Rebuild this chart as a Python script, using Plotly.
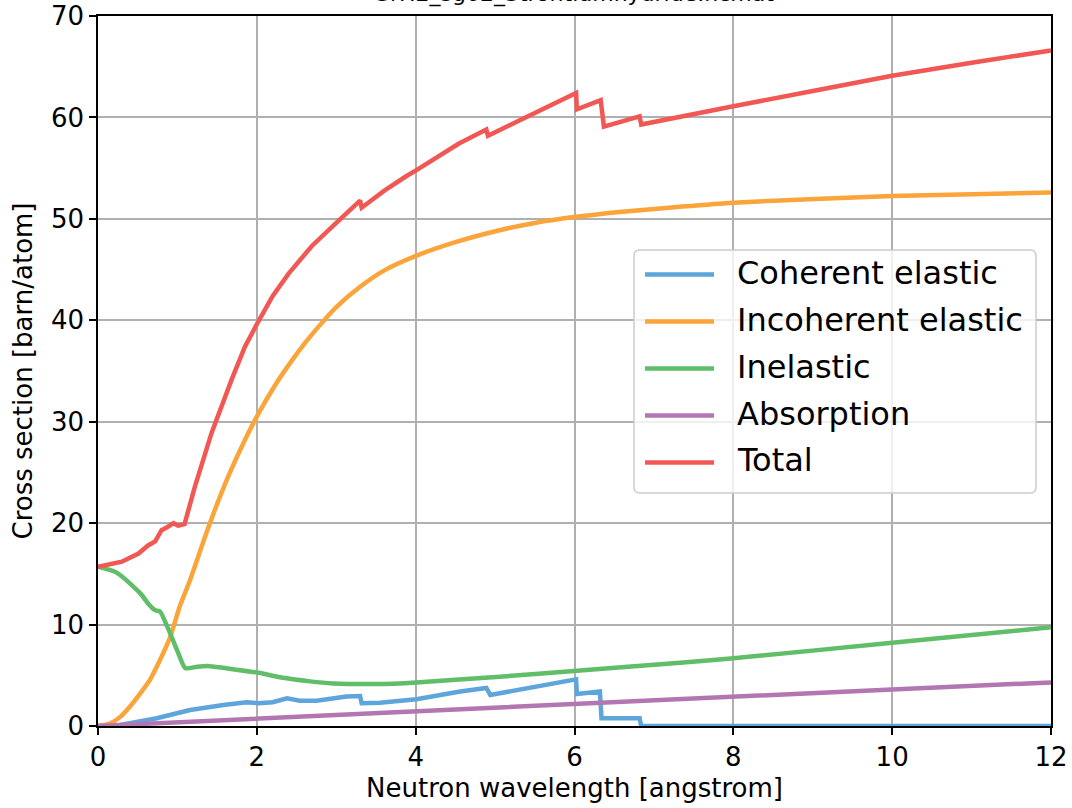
import re
import plotly.graph_objects as go

# ---- data ----
coh_x = [0, 0.28, 0.74, 1.16, 1.58, 1.87, 2.02, 2.20, 2.38, 2.54, 2.75, 2.92, 3.13, 3.30, 3.32,
         3.55, 4.01, 4.56, 4.89, 4.94, 6.02, 6.03, 6.32, 6.34, 6.82, 6.84, 12]
coh_y = [0, 0.1, 0.76, 1.58, 2.07, 2.35, 2.25, 2.35, 2.73, 2.5, 2.5, 2.7, 2.9, 2.96, 2.24,
         2.3, 2.63, 3.4, 3.75, 3.06, 4.6, 3.15, 3.4, 0.76, 0.76, 0, 0]

inc_x = [0, 0.15, 0.28, 0.40, 0.53, 0.65, 0.78, 0.91, 1.03, 1.16, 1.39, 1.64, 1.85, 2.02,
         2.23, 2.42, 2.6, 2.78, 3.0, 3.3, 3.6, 4.02, 4.5, 5.07, 5.5, 6.02, 6.6, 7.33, 8, 10, 12]
inc_y = [0, 0.25, 0.9, 1.9, 3.2, 4.5, 6.5, 8.8, 11.8, 14.4, 19.6, 24.6, 28.2, 30.8,
         33.6, 35.8, 37.7, 39.4, 41.3, 43.3, 44.9, 46.4, 47.7, 48.9, 49.6, 50.2, 50.7, 51.2,
         51.6, 52.25, 52.6]

inel_x = [0, 0.24, 0.53, 0.65, 0.72, 0.78, 0.91, 1.02, 1.10, 1.25, 1.41, 1.7, 2.02, 2.33,
          2.67, 2.96, 3.51, 4.01, 5.06, 6.03, 7.33, 8, 10, 12]
inel_y = [15.7, 15.1, 13.1, 11.9, 11.4, 11.3, 9.1, 7.0, 5.7, 5.85, 5.9, 5.6, 5.25, 4.75,
          4.4, 4.2, 4.14, 4.3, 4.86, 5.45, 6.24, 6.67, 8.21, 9.73]

abs_x = [0, 2, 4, 6, 8, 10, 12]
abs_y = [0, 0.74, 1.45, 2.17, 2.89, 3.61, 4.3]

tot_x = [0, 0.3, 0.51, 0.63, 0.72, 0.80, 0.87, 0.95, 1.01, 1.09, 1.22, 1.43, 1.68, 1.85,
         2.02, 2.20, 2.40, 2.69, 3.0, 3.19, 3.30, 3.32, 3.61, 3.88, 4.01, 4.54, 4.89, 4.91,
         6.02, 6.03, 6.33, 6.37, 6.82, 6.84, 7.33, 8, 9, 10, 11, 12]
tot_y = [15.7, 16.2, 17.0, 17.8, 18.2, 19.3, 19.6, 20.0, 19.75, 19.9, 23.6, 28.9, 34.1, 37.4,
         39.9, 42.4, 44.6, 47.3, 49.6, 51.0, 51.8, 51.1, 52.8, 54.2, 54.8, 57.4, 58.8, 58.2,
         62.4, 60.8, 61.7, 59.1, 60.1, 59.3, 60.1, 61.1, 62.6, 64.1, 65.4, 66.6]

names = ["Coherent elastic", "Incoherent elastic", "Inelastic", "Absorption", "Total"]
colors = ["#5DA5DA", "#FAA43A", "#60BD68", "#B276B2", "#F15854"]
title_text = "SrH2_sg62_Strontiumhydride.ncmat"
x_title = "Neutron wavelength [angstrom]"
y_title = "Cross section [barn/atom]"

series = [(coh_x, coh_y, "linear"), (inc_x, inc_y, "spline"), (inel_x, inel_y, "spline"),
          (abs_x, abs_y, "linear"), (tot_x, tot_y, "linear")]

FONT = "DejaVu Sans"
W, H = 1072, 808
ML, MR, MT, MB = 98, 21, 16, 82
PW, PH = W - ML - MR, H - MT - MB


def px_x(p):
    return (p - ML) / PW


def px_y(p):
    return (H - MB - p) / PH


fig = go.Figure()
for (xs, ys, shp), nm, c in zip(series, names, colors):
    line = dict(color=c, width=4.5, shape=shp)
    if shp == "spline":
        line["smoothing"] = 0.6
    fig.add_trace(go.Scatter(x=xs, y=ys, mode="lines", name=nm, line=line, showlegend=False))

axis_common = dict(
    showline=True, linecolor="black", linewidth=1.6, mirror=True,
    ticks="outside", ticklen=7, tickwidth=1.6, tickcolor="black",
    showgrid=True, gridcolor="#b0b0b0", gridwidth=1.5, zeroline=False,
    tickfont=dict(family=FONT, size=26, color="black"), automargin=False,
)
fig.update_xaxes(range=[0, 12], dtick=2, tick0=0,
                 title=dict(text=x_title, font=dict(family=FONT, size=26, color="black"), standoff=8),
                 **axis_common)
fig.update_yaxes(range=[0, 70], dtick=10, tick0=0,
                 title=dict(text=y_title, font=dict(family=FONT, size=26, color="black"), standoff=11),
                 **axis_common)

# ---- legend drawn as a rounded box with sample lines and text labels ----
shapes = []
annotations = []
bx0, bx1, by0, by1, r = 634, 1036, 250, 493, 6
path = (f"M{bx0 + r},{by0} L{bx1 - r},{by0} Q{bx1},{by0} {bx1},{by0 + r} "
        f"L{bx1},{by1 - r} Q{bx1},{by1} {bx1 - r},{by1} L{bx0 + r},{by1} "
        f"Q{bx0},{by1} {bx0},{by1 - r} L{bx0},{by0 + r} Q{bx0},{by0} {bx0 + r},{by0} Z")


def conv(m):
    a, b = float(m.group(1)), float(m.group(2))
    return f"{px_x(a):.5f},{px_y(b):.5f}"


paper_path = re.sub(r"(-?\d+(?:\.\d+)?),(-?\d+(?:\.\d+)?)", conv, path)
shapes.append(dict(type="path", path=paper_path, xref="paper", yref="paper",
                   fillcolor="rgba(255,255,255,0.8)", line=dict(color="#cccccc", width=1.5),
                   layer="above"))
row_y = [274.5, 321.5, 368.5, 415.5, 462.5]
for nm, c, ry in zip(names, colors, row_y):
    shapes.append(dict(type="line", xref="paper", yref="paper",
                       x0=px_x(645), x1=px_x(714), y0=px_y(ry), y1=px_y(ry),
                       line=dict(color=c, width=4.5), layer="above"))
    annotations.append(dict(text=nm, xref="paper", yref="paper", x=px_x(735), y=px_y(ry - 2),
                            xanchor="left", yanchor="middle", showarrow=False,
                            font=dict(family=FONT, size=32, color="black")))

annotations.append(dict(text=title_text, xref="paper", yref="paper", x=0.5, y=px_y(9),
                        xanchor="center", yanchor="bottom", showarrow=False,
                        font=dict(family=FONT, size=22, color="black")))

fig.update_layout(
    width=W, height=H,
    margin=dict(l=ML, r=MR, t=MT, b=MB, pad=0, autoexpand=False),
    plot_bgcolor="white", paper_bgcolor="white",
    font=dict(family=FONT, color="black"),
    showlegend=False,
    shapes=shapes,
    annotations=annotations,
)

fig.write_html("out.html",
               config={"displayModeBar": False},
               post_script="document.body.style.margin='0';document.body.style.padding='0';"
                           "document.body.style.overflow='hidden';")
